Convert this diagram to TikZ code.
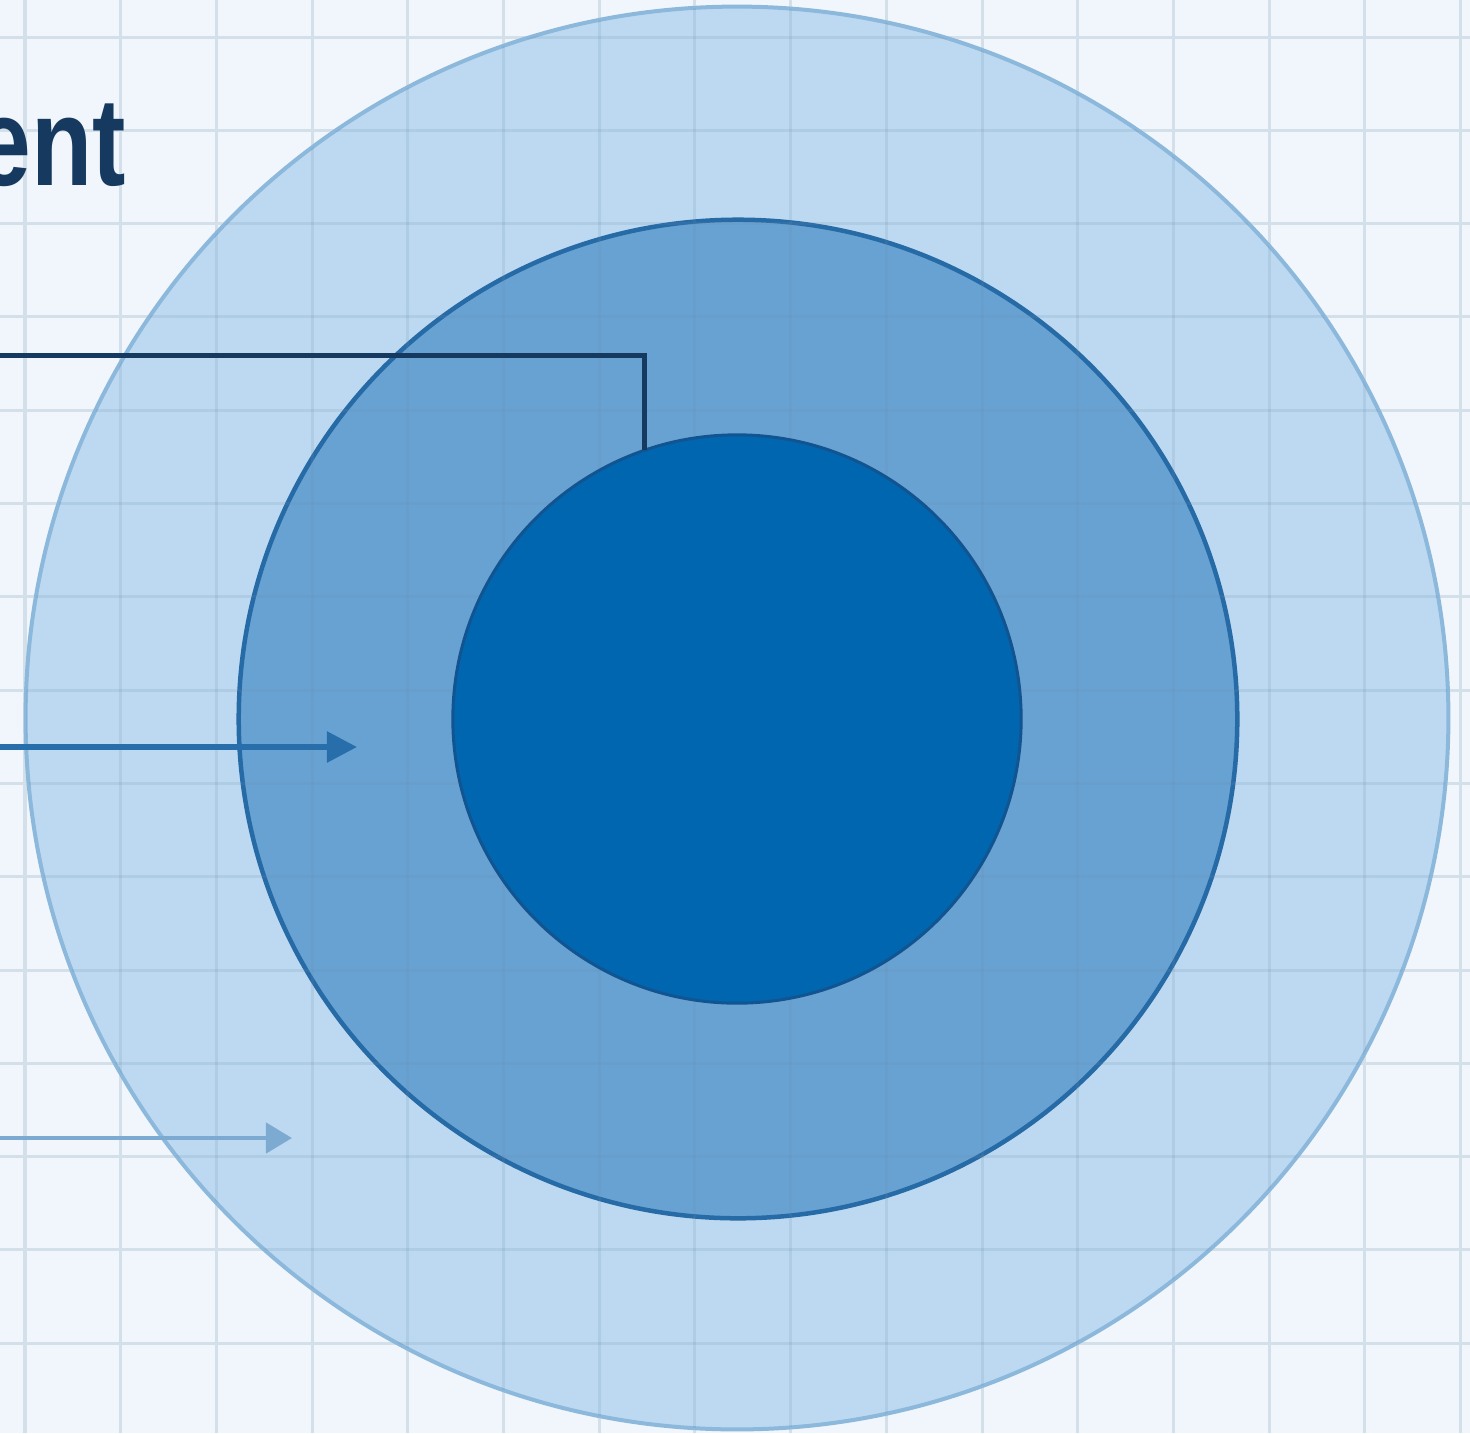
\documentclass[tikz,border=0pt]{standalone}
\usepackage{fontspec}
\usepackage{tikz}
\usepackage{xcolor}
\usetikzlibrary{arrows.meta}
\newfontfamily\headfont{Liberation Sans}
\definecolor{paper}{RGB}{240,246,251}
\definecolor{gridcol}{RGB}{110,140,170}
\definecolor{outerfill}{RGB}{189,217,241}
\definecolor{outerline}{RGB}{140,184,220}
\definecolor{ringfill}{RGB}{103,162,211}
\definecolor{ringline}{RGB}{38,106,166}
\definecolor{corefill}{RGB}{0,102,176}
\definecolor{coreline}{RGB}{18,84,144}
\definecolor{navy}{RGB}{22,58,95}
\definecolor{midarrow}{RGB}{40,110,170}
\definecolor{lowarrow}{RGB}{125,170,208}

\begin{document}
\begin{tikzpicture}[x=0.01cm,y=-0.01cm,every node/.style={inner sep=0pt,outer sep=0pt}]
\useasboundingbox (0,0) rectangle (1470,1433);
\fill[paper] (0,0) rectangle (1470,1433);
\foreach \i in {0,...,15} \draw[gridcol!22!paper,line width=0.03cm] ({25+95.7*\i},0) -- ({25+95.7*\i},1433);
\foreach \j in {0,...,14} \draw[gridcol!22!paper,line width=0.03cm] (0,{37+93.3*\j}) -- (1470,{37+93.3*\j});
\node[circle,minimum size=14.22cm,fill=outerfill,draw=outerline,line width=0.04cm] (outer) at (737,718) {};
\node[circle,minimum size=9.98cm,fill=ringfill,draw=ringline,line width=0.045cm] (ring) at (738,719) {};
\begin{scope}
\clip (outer.center) circle[radius=711];
\foreach \i in {0,...,15} \draw[gridcol,opacity=0.17,line width=0.03cm] ({25+95.7*\i},0) -- ({25+95.7*\i},1433);
\foreach \j in {0,...,14} \draw[gridcol,opacity=0.17,line width=0.03cm] (0,{37+93.3*\j}) -- (1470,{37+93.3*\j});
\end{scope}
\node[circle,minimum size=5.68cm,fill=corefill,draw=coreline,line width=0.03cm] (core) at (737,719) {};
\coordinate (tagA) at (0,355);
\coordinate (tagB) at (0,747);
\coordinate (tagC) at (0,1138);
\coordinate (ringHead) at (357,747);
\coordinate (outerHead) at (292,1138);
\draw[navy,line width=0.05cm] (tagA) -| (core.109.5);
\draw[midarrow,line width=0.055cm,-{Triangle[length=0.3cm,width=0.3cm]}] (tagB) -- (ringHead);
\draw[lowarrow,line width=0.045cm,-{Triangle[length=0.26cm,width=0.3cm]}] (tagC) -- (outerHead);
\node[anchor=base east,text=navy,font=\headfont\bfseries\fontsize{35.6pt}{40pt}\selectfont] (title) at (126,185) {\scalebox{0.8}[1]{ent}};
\end{tikzpicture}
\end{document}
